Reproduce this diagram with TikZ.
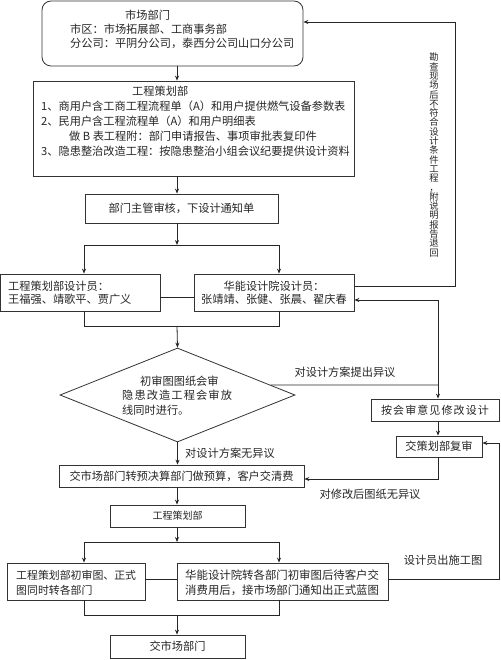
\documentclass[tikz,border=0pt]{standalone}
\usepackage{fontspec}
\setmainfont{Noto Sans CJK SC}
\newfontfamily\lsfont[LetterSpace=10]{Noto Sans CJK SC}
\usetikzlibrary{shapes.geometric,arrows.meta,calc}
\begin{document}
\begin{tikzpicture}[x=1pt,y=-1pt,
  box/.style={draw=black!80, line width=0.8pt, inner sep=0pt, font=\fontsize{11.2}{13}\selectfont, text=black!85},
  txt/.style={inner sep=0pt, font=\fontsize{11.2}{13}\selectfont, text=black!85},
  ln/.style={line width=0.8pt, draw=black!85},
  arr/.style={ln, -{Stealth[length=5pt,width=4pt]}}]
\useasboundingbox (0,0) rectangle (500,660);
\fill[white] (0,0) rectangle (500,660);
\coordinate (cx) at (177,0);
% boxes
\node[box, rounded corners=9pt, minimum width=261pt, minimum height=65pt] (b1) at (172.5,33.5) {};
\node[txt, anchor=west, align=left, font=\fontsize{11.2}{14}\selectfont] at (70,29)
  {\hspace*{55pt}市场部门\\市区：市场拓展部、工商事务部\\分公司：平阴分公司，泰西分公司山口分公司};
\node[box, minimum width=321pt, minimum height=95pt] (b2) at (193.5,128.5) {};
\node[txt, anchor=west, align=left, font=\fontsize{11.2}{15}\selectfont] at (41,121)
  {\hspace*{91pt}工程策划部\\1、商用户含工商工程流程单（A）和用户提供燃气设备参数表\\2、民用户含工程流程单（A）和用户明细表\\\hspace*{28pt}做 B 表工程附：部门申请报告、事项审批表复印件\\3、隐患整治改造工程：按隐患整治小组会议纪要提供设计资料};
\node[box, minimum width=193pt, minimum height=29pt] (b3) at (181.5,208.5) {部门主管审核，下设计通知单};
\node[box, minimum width=160pt, minimum height=37pt] (b4) at (80,292.5) {};
\node[txt, anchor=west, align=left, font=\fontsize{11.2}{12.5}\selectfont] at (8,293)
  {工程策划部设计员：\\王福强、靖歌平、贾广义};
\node[box, minimum width=160pt, minimum height=37pt, align=center, font=\fontsize{11.2}{12.5}\selectfont] (b5) at (274,292.5)
  {华能设计院设计员：\\张靖靖、张健、张晨、翟庆春};
\node[diamond, draw=black!80, line width=0.8pt, inner sep=0pt, minimum width=235pt, minimum height=94pt] (dia) at (177.5,395) {};
\node[txt, anchor=west, align=left, font=\fontsize{11.2}{14.5}\selectfont] at (122,395.5)
  {\hspace*{18pt}初审图图纸会审\\{\lsfont 隐患改造工程会审放}\\线同时进行。};
\node[box, minimum width=128pt, minimum height=22pt, font=\lsfont\fontsize{11}{13}\selectfont] (b6) at (435,410) {按会审意见修改设计};
\node[box, minimum width=86pt, minimum height=21pt] (b7) at (439,446.5) {交策划部复审};
\node[box, minimum width=245pt, minimum height=22pt] (b8) at (181.5,476) {交市场部门转预决算部门做预算，客户交清费};
\node[box, minimum width=135pt, minimum height=22pt, font=\fontsize{10}{12}\selectfont] (b9) at (177.5,516) {工程策划部};
\node[box, minimum width=138pt, minimum height=37pt] (b10) at (76,581.5) {};
\node[txt, anchor=west, align=left, font=\fontsize{10.9}{15}\selectfont] at (16,582.5)
  {工程策划部初审图、正式\\图同时转各部门};
\node[box, minimum width=211pt, minimum height=37pt] (b11) at (282.5,581.5) {};
\node[txt, anchor=west, align=left, font=\fontsize{11.4}{15}\selectfont] at (185,582.5)
  {华能设计院转各部门初审图后待客户交\\消费用后，接市场部门通知出正式蓝图};
\node[box, minimum width=135pt, minimum height=23pt] (b12) at (177.5,646.5) {交市场部门};
% labels
\node[txt, align=center, font=\fontsize{9.3}{9.3}\selectfont] (vt) at (434,155)
  {勘\\查\\现\\场\\后\\不\\符\\合\\设\\计\\条\\件\\工\\程\\，\\附\\说\\明\\报\\告\\退\\回};
\node[txt] (l1) at (345,372) {对设计方案提出异议};
\node[txt, anchor=west] (l2) at (185,453) {对设计方案无异议};
\node[txt] (l3) at (370,494) {对修改后图纸无异议};
\node[txt] (l4) at (443,560) {设计员出施工图};
% coordinates
\coordinate (s1l) at (84,245);
\coordinate (s1) at (177,245);
\coordinate (s1r) at (279,245);
\coordinate (m1) at (177,326);
\coordinate (rt) at (455,22);
\coordinate (j1) at (438,385);
\coordinate (s2l) at (84,542);
\coordinate (s2) at (177,542);
\coordinate (s2r) at (279,542);
\coordinate (m2) at (177,615);
\coordinate (rt2) at (499,443);
% connectors
\draw[arr] (b1.south -| cx) -- (b2.north -| cx);
\draw[arr] (b2.south -| cx) -- (b3.north -| cx);
\draw[arr] (b3.south -| cx) -- (s1);
\draw[ln] (s1l) -- (s1r);
\draw[arr] (s1l) -- (s1l |- b4.north);
\draw[arr] (s1r) -- (s1r |- b5.north);
\draw[ln] ($(b4.east)+(0,4.5)$) -- ($(b5.west)+(0,4.5)$);
\draw[ln] (b4.south -| s1l) -- (s1l |- m1) -- (s1r |- m1) -- (b5.south -| s1r);
\draw[arr] (m1) -- (dia.north);
\draw[arr] ($(b5.east)+(0,-6.5)$) -| (rt) -- (b1.east |- rt);
\draw[ln] ($(dia.north)!0.79!(dia.east)$) -- (j1);
\draw[arr] (j1) |- ($(b5.east)+(0,7.5)$);
\draw[arr] (j1) -- (j1 |- b6.north);
\draw[arr] (b6.south -| j1) -- (b7.north -| j1);
\draw[arr] (b7.south -| j1) |- ($(b8.east)+(0,3)$);
\draw[arr] (dia.south) -- (b8.north -| dia.south);
\draw[arr] (b8.south -| cx) -- (b9.north -| cx);
\draw[arr] (b9.south -| cx) -- (s2);
\draw[ln] (s2l) -- (s2r);
\draw[arr] (s2l) -- (s2l |- b10.north);
\draw[arr] (s2r) -- (s2r |- b11.north);
\draw[ln] ($(b10.east)+(0,-2.5)$) -- ($(b11.west)+(0,-2.5)$);
\draw[ln] (b10.south -| s2l) -- (s2l |- m2) -- (s2r |- m2) -- (b11.south -| s2r);
\draw[arr] (m2) -- (b12.north -| m2);
\draw[arr] ($(b11.east)+(0,-2.5)$) -| (rt2) -- (b7.east |- rt2);
\end{tikzpicture}
\end{document}
